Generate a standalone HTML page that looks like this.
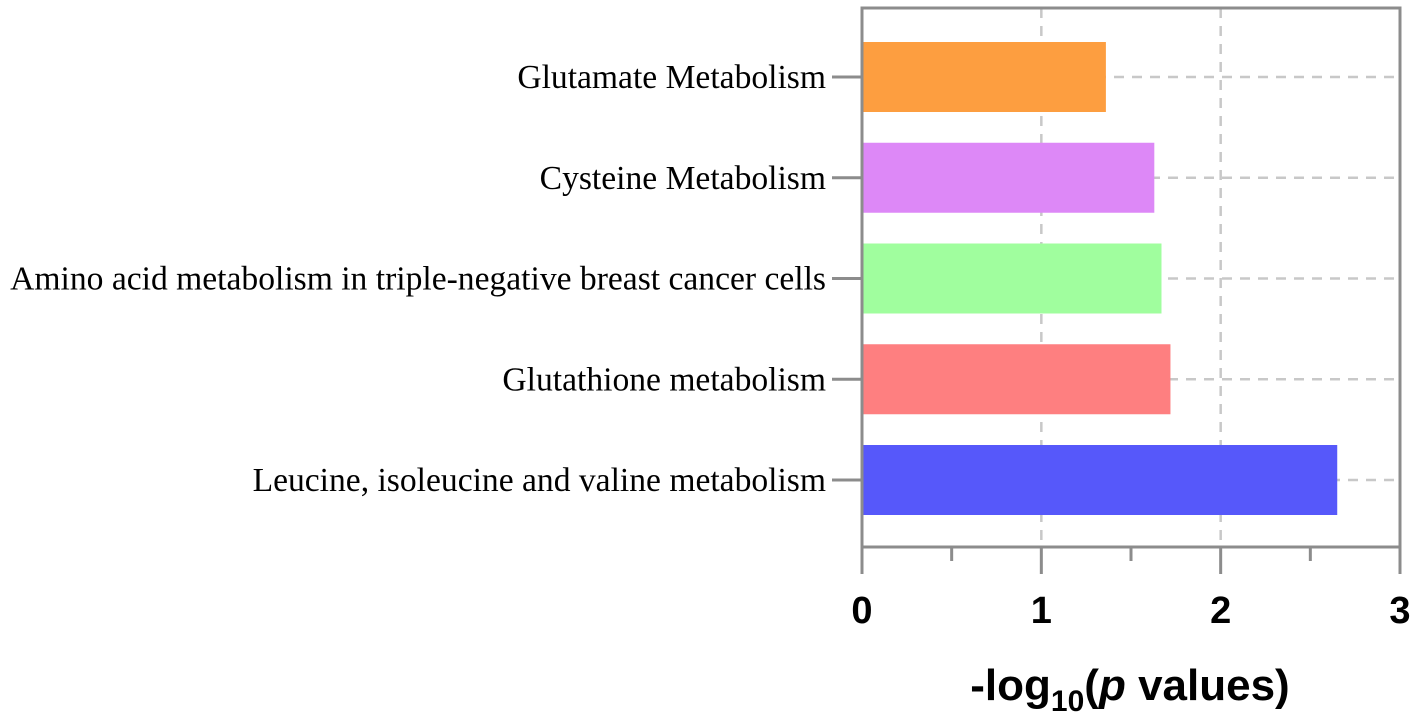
<!DOCTYPE html>
<html><head><meta charset="utf-8"><style>
html,body{margin:0;padding:0;background:#fff;width:1417px;height:724px;overflow:hidden}
</style></head><body>
<svg id="chart" width="1417" height="724" xmlns="http://www.w3.org/2000/svg"></svg>
<script>
const categories = ["Glutamate Metabolism","Cysteine Metabolism","Amino acid metabolism in triple-negative breast cancer cells","Glutathione metabolism","Leucine, isoleucine and valine metabolism"];
const values = [1.36, 1.63, 1.67, 1.72, 2.65];
const colors = ["#fd9e40","#dd88f7","#a0fe9e","#fe7f80","#5658fa"];
const xTicks = [0,1,2,3];
const xTickLabels = ["0","1","2","3"];

const svgEl = document.getElementById('chart');
const NS = 'http://www.w3.org/2000/svg';
const plotLeft = 862, plotRight = 1400, plotTop = 8, plotBottom = 547;
const xs = v => plotLeft + (v / 3) * (plotRight - plotLeft);
const yc = i => 77 + i * 100.75;
const barH = 70;
function mk(tag, attrs) {
  const e = document.createElementNS(NS, tag);
  for (const k in attrs) e.setAttribute(k, attrs[k]);
  svgEl.appendChild(e);
  return e;
}
xTicks.slice(1,3).forEach(t => {
  const g = mk('line',{x1:xs(t),x2:xs(t),y1:plotTop,y2:plotBottom,stroke:'#c8c8c8','stroke-width':2.5,'stroke-dasharray':'10,8'});
  
  
});
categories.forEach((c, i) => {
  const g = mk('line',{x1:plotLeft,x2:plotRight,y1:yc(i),y2:yc(i),stroke:'#c8c8c8','stroke-width':2.5,'stroke-dasharray':'10,8'});
  
  
});
categories.forEach((c, i) => {
  const r = mk('rect',{x:plotLeft,y:yc(i)-barH/2,width:xs(values[i])-plotLeft,height:barH,fill:colors[i]});
  
  
  const tk = mk('line',{x1:832,x2:plotLeft,y1:yc(i),y2:yc(i),stroke:'#8c8c8c','stroke-width':3});
  
  
  const t = mk('text',{x:826,y:yc(i)+11,'text-anchor':'end','font-family':'"Liberation Serif",serif','font-size':33.6,fill:'#000'});
  t.textContent = c;
  
  
});
const fr = mk('rect',{x:plotLeft,y:plotTop,width:plotRight-plotLeft,height:plotBottom-plotTop,fill:'none',stroke:'#8c8c8c','stroke-width':3});


for (let v = 0; v <= 3.001; v += 0.5) {
  const major = Math.abs(v - Math.round(v)) < 1e-6;
  const l = mk('line',{x1:xs(v),x2:xs(v),y1:plotBottom,y2:plotBottom+(major?27:14),stroke:'#8c8c8c','stroke-width':3});
  
  
}
xTicks.forEach((t, i) => {
  const tx = mk('text',{x:xs(t),y:623,'text-anchor':'middle','font-family':'"Liberation Sans",sans-serif','font-weight':'bold','font-size':38,fill:'#000'});
  tx.textContent = xTickLabels[i];
  
  
});
const title = mk('text',{x:1130,y:700,'text-anchor':'middle','font-family':'"Liberation Sans",sans-serif','font-weight':'bold','font-size':44,fill:'#000'});


title.innerHTML = '-log<tspan font-size="30" dy="11">10</tspan><tspan dy="-11">(</tspan><tspan font-style="italic">p</tspan> values)';
</script>
</body></html>
